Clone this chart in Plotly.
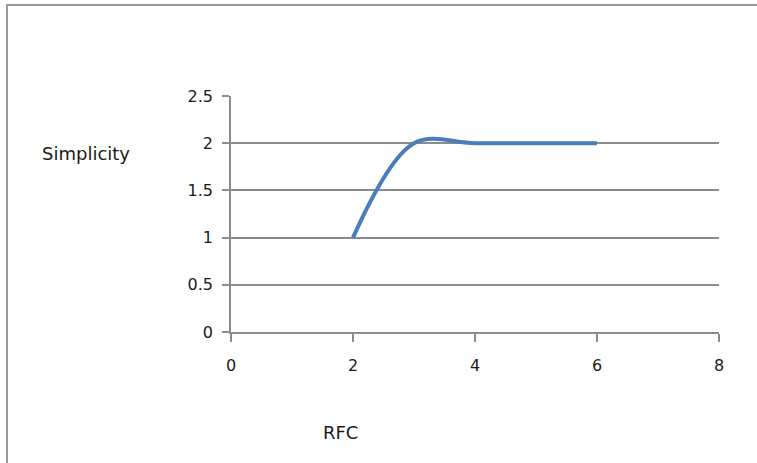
import plotly.graph_objects as go

rfc = [2, 3, 4, 5, 6]
simplicity = [1, 2, 2, 2, 2]
x_ticks = [0, 2, 4, 6, 8]
y_ticks = [0, 0.5, 1, 1.5, 2, 2.5]

W, H = 757, 463
L, R, T, B = 231, 38, 96, 131
pw = W - L - R
ph = H - T - B

fig = go.Figure()
fig.add_trace(go.Scatter(
    x=rfc, y=simplicity, mode="lines",
    line=dict(color="#4A7EBB", width=4, shape="spline", smoothing=1.0),
    showlegend=False, hoverinfo="skip",
))

fam = "DejaVu Sans, sans-serif"
axcol = "#8c8c8c"

fig.update_layout(
    width=W, height=H,
    margin=dict(l=L, r=R, t=T, b=B),
    paper_bgcolor="white", plot_bgcolor="white",
    font=dict(family=fam, size=16, color="#1a1a1a"),
    xaxis=dict(range=[0, 8], tickvals=x_ticks, showgrid=False, zeroline=False,
               showline=True, linecolor=axcol, linewidth=1.5,
               ticks="outside", ticklen=8, tickcolor=axcol, tickwidth=1.5,
               ticklabelstandoff=10, fixedrange=True),
    yaxis=dict(range=[0, 2.5], tickvals=y_ticks, showgrid=True, gridcolor=axcol, gridwidth=1.5,
               zeroline=False, showline=True, linecolor=axcol, linewidth=1.5,
               ticks="outside", ticklen=7, tickcolor=axcol, tickwidth=1.5,
               ticklabelstandoff=6, fixedrange=True),
    annotations=[
        dict(text="Simplicity", xref="paper", yref="paper",
             x=(40 - L) / pw, y=1 - (153 - T) / ph, xanchor="left", yanchor="middle",
             showarrow=False, font=dict(family=fam, size=18, color="#1a1a1a")),
        dict(text="RFC", xref="paper", yref="paper",
             x=(340 - L) / pw, y=1 - (432 - T) / ph, xanchor="center", yanchor="middle",
             showarrow=False, font=dict(family=fam, size=18, color="#1a1a1a")),
    ],
    shapes=[
        dict(type="rect", xref="paper", yref="paper",
             x0=(7 - L) / pw, x1=(W + 5 - L) / pw,
             y0=1 - (H + 5 - T) / ph, y1=1 - (5 - T) / ph,
             line=dict(color="#999", width=2), fillcolor="rgba(0,0,0,0)", layer="below"),
    ],
)

fig.write_html("out.html", config={"displayModeBar": False},
               post_script="document.body.style.margin='0';document.body.style.overflow='hidden';")
